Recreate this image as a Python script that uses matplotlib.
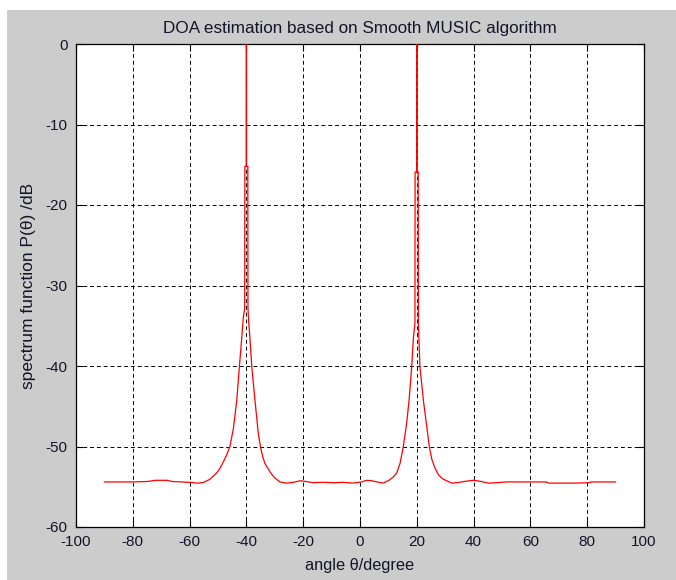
import matplotlib
matplotlib.use('Agg')
import matplotlib.pyplot as plt
from matplotlib.patches import Rectangle

# spectrum (angle in degree, P in dB)
theta = [-90, -85, -80, -75, -72, -68, -66, -63, -60, -57, -55, -53, -52, -50.5,
         -49.3, -48.1, -46.9, -45.8, -44.6, -43.4, -42.5, -41.7, -41.1, -40.6,
         -40.55, -40.05, -40.0, -39.95, -39.5, -39.45, -39.2, -38.7, -38.1, -37.0,
         -35.8, -35.0, -34.3, -33.5, -32.3, -31.2, -30.0, -28.2, -26, -23.5, -21,
         -19, -16.5, -13, -9, -6, -2.5, 0.5, 2.4, 4, 6, 8.2, 10.2, 11.7, 12.9,
         14.1, 15.2, 16.4, 17.3, 18.2, 18.8, 19.35, 19.4, 19.95, 20.0, 20.05,
         20.5, 20.55, 21.1, 22.3, 23.5, 24.4, 25.3, 26.3, 27.6, 29, 30.5, 32.3,
         35, 37.6, 39.9, 42, 45.2, 48, 51.7, 58, 65.5, 66.5, 75, 80.5, 81.5, 90]
p_db = [-54.4, -54.4, -54.4, -54.35, -54.2, -54.2, -54.35, -54.4, -54.45, -54.55,
        -54.45, -54.1, -53.8, -53.3, -52.7, -51.9, -51.0, -50.0, -47.8, -44.3,
        -40.2, -36.8, -34.0, -32.8, -15.2, -15.2, 30, -15.2, -15.2, -32.8, -34.5,
        -36.8, -40.1, -44.2, -48.4, -50.1, -51.2, -52.1, -52.8, -53.4, -53.9,
        -54.4, -54.55, -54.45, -54.25, -54.35, -54.5, -54.45, -54.5, -54.45,
        -54.55, -54.4, -54.2, -54.25, -54.4, -54.55, -54.2, -53.8, -53.3, -52.1,
        -50.1, -47.2, -44.2, -40.1, -36.5, -34.7, -15.9, -15.9, 30, -15.9, -15.9,
        -34.7, -40.1, -44.2, -47.5, -50.0, -51.6, -52.6, -53.5, -54.0, -54.25,
        -54.55, -54.45, -54.3, -54.2, -54.3, -54.55, -54.5, -54.4, -54.4, -54.4,
        -54.55, -54.55, -54.5, -54.4, -54.4]

xticks = list(range(-100, 101, 20))
yticks = list(range(-60, 1, 10))

plt.rcParams['font.family'] = ['Liberation Sans', 'DejaVu Sans']
plt.rcParams['font.size'] = 10
plt.rcParams['axes.unicode_minus'] = False

fig = plt.figure(figsize=(6.76, 5.80), dpi=100, facecolor='white')
fig.patches.append(Rectangle((7 / 676, 0), 1 - 7 / 676, 570 / 580,
                             transform=fig.transFigure, facecolor='#cccccc',
                             edgecolor='none', zorder=-10))
ax = fig.add_axes([76 / 676, 1 - 527 / 580, (644 - 76) / 676, (527 - 44) / 580])
ax.set_facecolor('white')

ax.plot(theta, p_db, color='red', lw=0.9, zorder=3)

ax.set_xlim(-100, 100)
ax.set_ylim(-60, 0)
ax.set_xticks(xticks)
ax.set_yticks(yticks)
ax.grid(True, color='black', linestyle=(0, (4, 3)), lw=0.7)
ax.tick_params(direction='in', length=5, width=0.8, top=True, right=True,
               pad=6, labelsize=11, labelcolor='#141428')
for s in ax.spines.values():
    s.set_linewidth(0.9)

ax.set_title('DOA estimation based on Smooth MUSIC algorithm', fontsize=12.3,
             pad=8, color='#141428')
ax.set_xlabel('angle θ/degree', fontsize=11.8, labelpad=6, color='#141428')
ax.set_ylabel('spectrum function P(θ) /dB', fontsize=12.5, labelpad=7,
              color='#141428')

fig.savefig('out.png', dpi=100, facecolor=fig.get_facecolor())
